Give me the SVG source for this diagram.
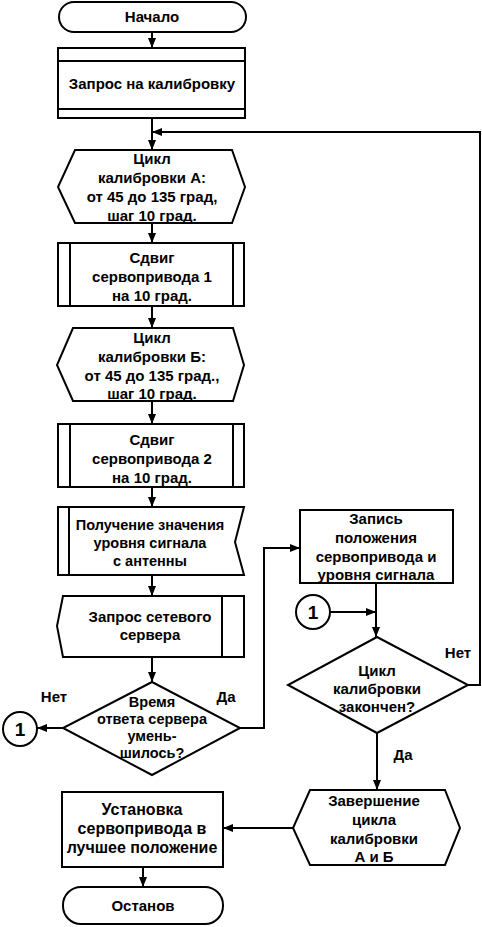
<svg xmlns="http://www.w3.org/2000/svg" width="482" height="927" viewBox="0 0 482 927">
<defs>
<marker id="ah" markerWidth="10" markerHeight="10" refX="10" refY="5" orient="auto" markerUnits="userSpaceOnUse">
<path d="M0,1 L10,5 L0,9 Z" fill="#000"/>
</marker>
<style>
.s{fill:#fff;stroke:#000;stroke-width:2}
.l{fill:none;stroke:#000;stroke-width:2}
.c{fill:none;stroke:#000;stroke-width:2;marker-end:url(#ah)}
text{font-family:"Liberation Sans",Arial,sans-serif;font-size:15px;font-weight:bold;fill:#000;text-anchor:middle}
.sm{font-size:14.5px}
.lg{font-size:16px}
.n{font-size:19px}
</style>
</defs>
<rect width="482" height="927" fill="#fff"/>
<g id="connectors">
<path class="c" d="M152,32 V48"/>
<path class="c" d="M152,118 V150"/>
<path class="c" d="M152,223 V243"/>
<path class="c" d="M152,306 V328"/>
<path class="c" d="M152,401 V424"/>
<path class="c" d="M152,487 V507"/>
<path class="c" d="M152,575 V596"/>
<path class="c" d="M152,657 V682"/>
<path class="c" d="M63,728 H37"/>
<path class="c" d="M240,728 H264 V548 H300"/>
<path class="c" d="M376,583 V637"/>
<path class="c" d="M330,612 H376"/>
<path class="c" d="M468,685 H480 V132 H152"/>
<path class="c" d="M377,733 V790"/>
<path class="c" d="M293,828 H223"/>
<path class="c" d="M143,867 V887"/>
</g>
<g id="start">
<rect class="s" x="59" y="2" width="187" height="30" rx="15"/>
<text x="152" y="22">Начало</text>
</g>
<g id="request">
<rect class="s" x="58" y="48" width="187" height="70"/>
<path class="l" d="M58,61 H245 M58,109 H245"/>
<text x="152" y="89">Запрос на калибровку</text>
</g>
<g id="loopA">
<path class="s" d="M75,150 H232 L245,187 L232,223 H75 L58,187 Z"/>
<text x="152" y="164">Цикл</text>
<text x="152" y="183">калибровки А:</text>
<text x="152" y="202">от 45 до 135 град,</text>
<text x="152" y="221">шаг 10 град.</text>
</g>
<g id="shift1">
<rect class="s" x="58" y="243" width="186" height="63"/>
<path class="l" d="M70,243 V306 M233,243 V306"/>
<text x="152" y="263">Сдвиг</text>
<text x="152" y="282">сервопривода 1</text>
<text x="152" y="301">на 10 град.</text>
</g>
<g id="loopB">
<path class="s" d="M73,328 H233 L244,365 L233,401 H73 L57,365 Z"/>
<text x="152" y="343">Цикл</text>
<text x="152" y="362">калибровки Б:</text>
<text x="152" y="381">от 45 до 135 град.,</text>
<text x="152" y="399">шаг 10 град.</text>
</g>
<g id="shift2">
<rect class="s" x="58" y="424" width="186" height="63"/>
<path class="l" d="M70,424 V487 M233,424 V487"/>
<text x="152" y="445">Сдвиг</text>
<text x="152" y="464">сервопривода 2</text>
<text x="152" y="483">на 10 град.</text>
</g>
<g id="receive">
<path class="s" d="M58,507 H244 L235,542 L244,575 H58 Z"/>
<path class="l" d="M69,507 V575"/>
<text class="sm" x="150" y="530">Получение значения</text>
<text class="sm" x="150" y="548">уровня сигнала</text>
<text class="sm" x="150" y="566">с антенны</text>
</g>
<g id="server">
<path class="s" d="M63,596 H244 V657 H63 L57,626 Z"/>
<path class="l" d="M222,596 V657"/>
<text x="150" y="622">Запрос сетевого</text>
<text x="150" y="640">сервера</text>
</g>
<g id="decision1">
<path class="s" d="M152,682 L240,728 L152,775 L63,728 Z"/>
<text class="sm" x="152" y="707">Время</text>
<text class="sm" x="152" y="724">ответа сервера</text>
<text class="sm" x="152" y="741">умень-</text>
<text class="sm" x="152" y="758">шилось?</text>
<text x="54" y="702">Нет</text>
<text x="226" y="702">Да</text>
</g>
<g id="conn1left">
<circle class="s" cx="20" cy="729" r="17"/>
<text class="n" x="20" y="736">1</text>
</g>
<g id="record">
<rect class="s" x="300" y="510" width="153" height="73"/>
<text x="376" y="524">Запись</text>
<text x="376" y="543">положения</text>
<text x="376" y="562">сервопривода и</text>
<text x="376" y="580">уровня сигнала</text>
</g>
<g id="conn1right">
<circle class="s" cx="313" cy="612" r="17"/>
<text class="n" x="313" y="619">1</text>
</g>
<g id="decision2">
<path class="s" d="M377,637 L468,685 L377,733 L288,685 Z"/>
<text x="377" y="676">Цикл</text>
<text x="377" y="694">калибровки</text>
<text x="377" y="712">закончен?</text>
<text x="458" y="658">Нет</text>
<text x="403" y="760">Да</text>
</g>
<g id="endloop">
<path class="s" d="M310,790 H445 L460,828 L445,865 H310 L293,828 Z"/>
<text x="374" y="806">Завершение</text>
<text x="374" y="825">цикла</text>
<text x="374" y="844">калибровки</text>
<text x="374" y="862">А и Б</text>
</g>
<g id="setbest">
<rect class="s" x="62" y="792" width="161" height="75"/>
<text class="lg" x="142" y="815">Установка</text>
<text class="lg" x="142" y="834">сервопривода в</text>
<text class="lg" x="142" y="853">лучшее положение</text>
</g>
<g id="stop">
<rect class="s" x="63" y="887" width="160" height="37" rx="18"/>
<text x="143" y="911">Останов</text>
</g>
</svg>
